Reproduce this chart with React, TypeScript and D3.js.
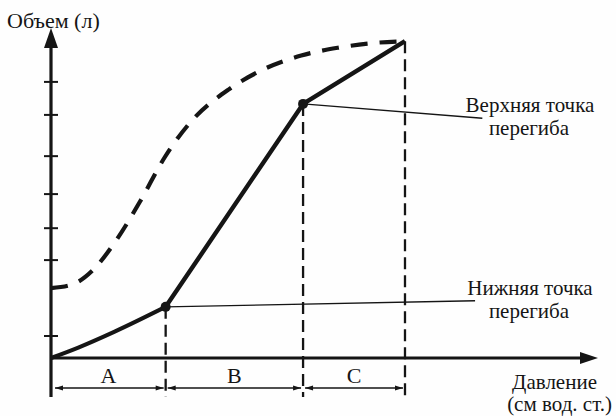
import React from "react";
import * as d3 from "d3";

// Pressure–volume loop: inflation limb with lower/upper inflection points
const limbPressure = [0, 3, 7, 12.6, 27.7, 38.9];
const limbVolume = [0, 1.9, 4.8, 9.3, 46.2, 57.6];

// Deflation limb (dashed)
const deflPressure = [0, 2.4, 4.5, 7.0, 9.8, 12.5, 15.5, 19.5, 23.5, 27.5, 31.5, 35.0, 38.9];
const deflVolume = [12.7, 13.4, 15.8, 21.0, 28.5, 36.5, 43.2, 48.8, 52.6, 55.0, 56.4, 57.2, 57.6];

// Unlabelled volume ticks
const volumeTicks = [4.0, 17.8, 23.6, 29.8, 36.7, 44.2, 50.2];

// Zones along the pressure axis
const zoneNames = ["A", "B", "C"];
const zoneBounds = [0, 12.6, 27.7, 38.9];

// Inflection point annotations
const inflectionIdx = [3, 4];
const inflectionLines1 = ["Нижняя точка", "Верхняя точка"];
const inflectionLines2 = ["перегиба", "перегиба"];
const leaderEnd = [
  [46.6, 10.4],
  [47.4, 43.6],
];

const yTitle = "Объем (л)";
const xTitle1 = "Давление";
const xTitle2 = "(см вод. ст.)";

const W = 616;
const H = 416;
const INK = "#151515";
const FONT = "'Liberation Serif', 'Times New Roman', serif";

export default function App() {
  const x = d3.scaleLinear().domain([0, 60]).range([51, 597]);
  const y = d3.scaleLinear().domain([0, 60]).range([358, 28]);

  const x0 = x(0);
  const y0 = y(0);
  const yAxisBottom = 397;
  const yArrowTip = 28;
  const xArrowTip = 598;

  const limbPts: [number, number][] = limbPressure.map((p, i) => [p, limbVolume[i]]);
  const curvedPart = d3
    .line<[number, number]>()
    .x((d) => x(d[0]))
    .y((d) => y(d[1]))
    .curve(d3.curveMonotoneX)(limbPts.slice(0, 4));
  const straightPart = d3
    .line<[number, number]>()
    .x((d) => x(d[0]))
    .y((d) => y(d[1]))(limbPts.slice(3));

  const deflPts: [number, number][] = deflPressure.map((p, i) => [p, deflVolume[i]]);
  const deflPath = d3
    .line<[number, number]>()
    .x((d) => x(d[0]))
    .y((d) => y(d[1]))
    .curve(d3.curveMonotoneX)(deflPts);

  const rangeY = 388;
  const ah = 8; // range arrowhead length
  const aw = 2.6; // half width

  const textStyle = { fontFamily: FONT, fill: INK } as React.CSSProperties;

  return (
    <div style={{ position: "fixed", left: 0, top: 0, width: W, height: H, background: "#fff" }}>
      <svg width={W} height={H} viewBox={`0 0 ${W} ${H}`} style={{ display: "block" }}>
        <rect width={W} height={H} fill="#fefefe" />

        {/* vertical dashed boundaries */}
        {zoneBounds.slice(1).map((b, i) => {
          const idx = limbPressure.indexOf(b);
          return (
            <line
              key={`vb${i}`}
              x1={x(b)}
              x2={x(b)}
              y1={y(limbVolume[idx])}
              y2={yAxisBottom}
              stroke={INK}
              strokeWidth={2.3}
              strokeDasharray="12 6"
            />
          );
        })}

        {/* leader lines */}
        {inflectionIdx.map((idx, i) => (
          <line
            key={`ld${i}`}
            x1={x(limbPressure[idx])}
            y1={y(limbVolume[idx])}
            x2={x(leaderEnd[i][0])}
            y2={y(leaderEnd[i][1])}
            stroke={INK}
            strokeWidth={1.4}
          />
        ))}

        {/* axes */}
        <line x1={x0} x2={xArrowTip - 14} y1={y0} y2={y0} stroke={INK} strokeWidth={3} />
        <path
          d={`M${xArrowTip},${y0} L${xArrowTip - 18},${y0 - 6} L${xArrowTip - 18},${y0 + 6} Z`}
          fill={INK}
        />
        <line x1={x0} x2={x0} y1={yAxisBottom} y2={yArrowTip + 14} stroke={INK} strokeWidth={3.2} />
        <path
          d={`M${x0},${yArrowTip} L${x0 - 7},${yArrowTip + 20} L${x0 + 7},${yArrowTip + 20} Z`}
          fill={INK}
        />
        {volumeTicks.map((t, i) => (
          <line key={`yt${i}`} x1={x0 - 7} x2={x0 + 7} y1={y(t)} y2={y(t)} stroke={INK} strokeWidth={2} />
        ))}

        {/* deflation limb */}
        <path d={deflPath || ""} fill="none" stroke={INK} strokeWidth={4.2} strokeDasharray="17 12" />

        {/* inflation limb */}
        <path d={curvedPart || ""} fill="none" stroke={INK} strokeWidth={4} />
        <path d={straightPart || ""} fill="none" stroke={INK} strokeWidth={4.4} strokeLinejoin="round" />
        {inflectionIdx.map((idx, i) => (
          <circle key={`pt${i}`} cx={x(limbPressure[idx])} cy={y(limbVolume[idx])} r={5} fill={INK} />
        ))}

        {/* zone ranges */}
        {zoneNames.map((name, i) => {
          const a = x(zoneBounds[i]) + (i === 0 ? 4 : 2);
          const b = x(zoneBounds[i + 1]) - 2;
          return (
            <g key={`z${i}`}>
              <line x1={a} x2={b} y1={rangeY} y2={rangeY} stroke={INK} strokeWidth={1.4} />
              <path d={`M${a},${rangeY} L${a + ah},${rangeY - aw} L${a + ah},${rangeY + aw} Z`} fill={INK} />
              <path d={`M${b},${rangeY} L${b - ah},${rangeY - aw} L${b - ah},${rangeY + aw} Z`} fill={INK} />
              <text
                x={(x(zoneBounds[i]) + x(zoneBounds[i + 1])) / 2}
                y={383}
                textAnchor="middle"
                style={{ ...textStyle, fontSize: 22 }}
              >
                {name}
              </text>
            </g>
          );
        })}

        {/* axis titles */}
        <text x={7} y={28} style={{ ...textStyle, fontSize: 22 }}>
          {yTitle}
        </text>
        <text x={597} y={389} textAnchor="end" style={{ ...textStyle, fontSize: 21 }}>
          {xTitle1}
        </text>
        <text x={612} y={411} textAnchor="end" style={{ ...textStyle, fontSize: 21 }}>
          {xTitle2}
        </text>

        {/* inflection labels */}
        {inflectionIdx.map((idx, i) => {
          const base = i === 0 ? 295 : 112;
          return (
            <g key={`lb${i}`}>
              <text x={530} y={base} textAnchor="middle" style={{ ...textStyle, fontSize: 21 }}>
                {inflectionLines1[i]}
              </text>
              <text x={529} y={base + 23} textAnchor="middle" style={{ ...textStyle, fontSize: 21 }}>
                {inflectionLines2[i]}
              </text>
            </g>
          );
        })}
      </svg>
    </div>
  );
}
